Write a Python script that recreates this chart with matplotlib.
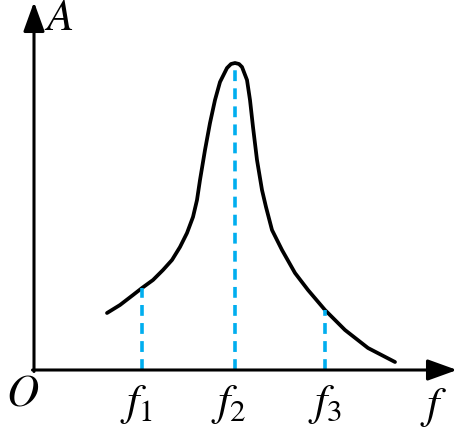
import numpy as np
import matplotlib.pyplot as plt

plt.rcParams['mathtext.fontset'] = 'stix'

# 曲线上读取的点 (f, A)
f_vals = [73, 86, 99, 108, 119, 129, 138, 146, 153, 159, 163, 166, 171, 176, 181,
          186, 193, 197, 201, 205, 208, 213, 216, 219, 223, 228, 232, 238, 248, 261,
          274, 291, 311, 334, 361]
a_vals = [57, 65, 75, 82, 90, 100, 110, 123, 137, 153, 170, 190, 220, 247, 270,
          288, 302, 306, 307, 306, 303, 290, 270, 243, 210, 180, 163, 140, 120, 97,
          80, 60, 40, 22, 8]

# 三条虚线的位置和高度
mark_f = [108, 201, 291]
mark_a = [82, 307, 60]
mark_labels = ['$f_1$', '$f_2$', '$f_3$']
label_x = [103, 195, 291]

fig = plt.figure(figsize=(4.65, 4.33), dpi=100)
ax = fig.add_axes([0, 0, 1, 1])
ax.set_xlim(-34, 431)
ax.set_ylim(-63, 370)
ax.axis('off')

# 坐标轴箭头
arrow = dict(arrowstyle='-|>,head_length=1.8,head_width=0.65', lw=2.2, color='black',
             shrinkA=0, shrinkB=0, mutation_scale=10)
ax.annotate('', xy=(0, 368), xytext=(0, -1.5), arrowprops=arrow)
ax.annotate('', xy=(423, 0), xytext=(-1.5, 0), arrowprops=arrow)

ax.plot(f_vals, a_vals, color='black', lw=2.7, solid_capstyle='round', solid_joinstyle='round')

for x, y in zip(mark_f, mark_a):
    ax.plot([x, x], [0, y], color='#00aeef', lw=2.6, dashes=(3.0, 2.0))

font = dict(family='STIXGeneral', style='italic', fontsize=32)
ax.text(26, 351, 'A', ha='center', va='center', **font)
ax.text(-12, -26, 'O', ha='center', va='center', **font)
ax.text(399, -37, 'f', ha='center', va='center', **font)
for x, s in zip(label_x, mark_labels):
    ax.text(x, -34, s, ha='center', va='center', fontsize=32)

fig.savefig('out.png', dpi=100)
